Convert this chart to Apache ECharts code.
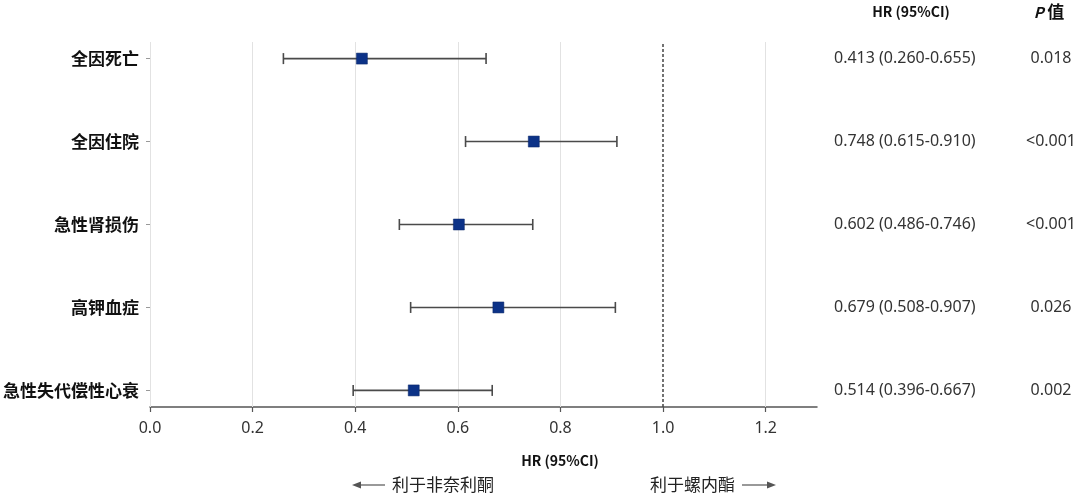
<!DOCTYPE html>
<html lang="zh">
<head>
	<meta charset="UTF-8">
	<title>森林图</title>
	<script src="https://cdn.jsdelivr.net/npm/echarts@6/dist/echarts.min.js"></script>
	<style>
		html, body { margin: 0; padding: 0; background: #fff; }
	</style>
</head>
<body>
	<div id="forest" style="width: 1080px;height: 497px;"></div>
	<script>
		// rows listed top to bottom
		var outcomes = ['全因死亡', '全因住院', '急性肾损伤', '高钾血症', '急性失代偿性心衰'];
		var hr = [0.413, 0.748, 0.602, 0.679, 0.514];
		var ciLow = [0.260, 0.615, 0.486, 0.508, 0.396];
		var ciHigh = [0.655, 0.910, 0.746, 0.907, 0.667];
		var pValues = ['0.018', '<0.001', '<0.001', '0.026', '0.002'];
		var xTicks = [0, 0.2, 0.4, 0.6, 0.8, 1.0, 1.2];

		var font = '"Noto Sans CJK SC", "Noto Sans", sans-serif';
		var numFont = '"Noto Sans", "Noto Sans CJK SC", sans-serif';
		var n = outcomes.length;
		var rowPos = outcomes.map(function (d, i) { return n - 1 - i; });

		function rowIndex(v) {
			return n - 1 - Math.round(v);
		}

		var points = hr.map(function (v, i) { return [v, rowPos[i]]; });
		var bars = hr.map(function (v, i) { return [ciLow[i], ciHigh[i], rowPos[i]]; });

		var gridMarks = xTicks.map(function (v) {
			if (v === 1.0) {
				return { xAxis: v, lineStyle: { color: '#444', width: 1.5, type: [3, 2] } };
			}
			return { xAxis: v, lineStyle: { color: '#e2e2e2', width: 1, type: 'solid' } };
		});

		var option = {
			animation: false,
			textStyle: { fontFamily: font },
			grid: { left: 150, right: 263, top: 42, bottom: 90 },
			xAxis: {
				type: 'value',
				min: 0,
				max: 1.3,
				axisLine: { onZero: false, lineStyle: { color: '#555', width: 1.5 } },
				axisTick: { customValues: xTicks, length: 5, lineStyle: { color: '#555', width: 1.2 } },
				axisLabel: {
					customValues: xTicks,
					margin: 13,
					fontSize: 16,
					fontFamily: numFont,
					color: '#333',
					formatter: function (v) { return v.toFixed(1); }
				},
				splitLine: { show: false }
			},
			yAxis: [{
				type: 'value',
				min: -0.2,
				max: 4.2,
				axisLine: { show: false },
				axisTick: { customValues: rowPos, length: 4, lineStyle: { color: '#999' } },
				axisLabel: {
					customValues: rowPos,
					margin: 11,
					fontSize: 17,
					fontWeight: 'bold',
					color: '#111',
					formatter: function (v) { return outcomes[rowIndex(v)]; }
				},
				splitLine: { show: false }
			}, {
				type: 'value',
				position: 'right',
				min: -0.2,
				max: 4.2,
				axisLine: { show: false },
				axisTick: { show: false },
				axisLabel: {
					customValues: rowPos,
					margin: 17,
					fontSize: 16,
					fontFamily: numFont,
					color: '#333',
					formatter: function (v) {
						var i = rowIndex(v);
						return hr[i].toFixed(3) + ' (' + ciLow[i].toFixed(3) + '-' + ciHigh[i].toFixed(3) + ')';
					}
				},
				splitLine: { show: false }
			}, {
				type: 'value',
				position: 'right',
				offset: 234,
				min: -0.2,
				max: 4.2,
				axisLine: { show: false },
				axisTick: { show: false },
				axisLabel: {
					customValues: rowPos,
					margin: 0,
					align: 'center',
					fontSize: 16,
					fontFamily: numFont,
					color: '#333',
					formatter: function (v) { return pValues[rowIndex(v)]; }
				},
				splitLine: { show: false }
			}],
			series: [{
				name: 'CI',
				type: 'custom',
				silent: true,
				z: 3,
				renderItem: function (params, api) {
					var a = api.coord([api.value(0), api.value(2)]);
					var b = api.coord([api.value(1), api.value(2)]);
					var cap = 5.5;
					var style = { stroke: '#4a4a4a', lineWidth: 1.6 };
					return {
						type: 'group',
						children: [
							{ type: 'line', shape: { x1: a[0], y1: a[1], x2: b[0], y2: b[1] }, style: style },
							{ type: 'line', shape: { x1: a[0], y1: a[1] - cap, x2: a[0], y2: a[1] + cap }, style: style },
							{ type: 'line', shape: { x1: b[0], y1: b[1] - cap, x2: b[0], y2: b[1] + cap }, style: style }
						]
					};
				},
				encode: { x: [0, 1], y: 2 },
				data: bars,
				markLine: {
					silent: true,
					symbol: 'none',
					label: { show: false },
					z: 1,
					data: gridMarks
				}
			}, {
				name: 'HR',
				type: 'scatter',
				symbol: 'rect',
				symbolSize: 11,
				z: 5,
				itemStyle: { color: '#0c3287', opacity: 1, borderColor: '#0a2766', borderWidth: 0.5 },
				data: points
			}],
			graphic: [
				{ type: 'text', x: 911, y: 12, style: { text: 'HR (95%CI)', align: 'center', verticalAlign: 'middle', font: 'bold 14px ' + font, fill: '#111' } },
				{
					type: 'text', x: 1049, y: 12,
					style: {
						text: '{p|P} {z|值}',
						align: 'center',
						verticalAlign: 'middle',
						rich: {
							p: { font: 'italic bold 15px ' + font, fill: '#111' },
							z: { font: 'bold 17px ' + font, fill: '#111' }
						}
					}
				},
				{ type: 'text', x: 560, y: 461, style: { text: 'HR (95%CI)', align: 'center', verticalAlign: 'middle', font: 'bold 14px ' + font, fill: '#111' } },
				{ type: 'line', shape: { x1: 359, y1: 485, x2: 385, y2: 485 }, style: { stroke: '#555', lineWidth: 1.2 } },
				{ type: 'polygon', shape: { points: [[352, 485], [361, 481.5], [361, 488.5]] }, style: { fill: '#555' } },
				{ type: 'text', x: 392, y: 485, style: { text: '利于非奈利酮', verticalAlign: 'middle', font: '17px ' + font, fill: '#222' } },
				{ type: 'text', x: 650, y: 485, style: { text: '利于螺内酯', verticalAlign: 'middle', font: '17px ' + font, fill: '#222' } },
				{ type: 'line', shape: { x1: 742, y1: 485, x2: 768, y2: 485 }, style: { stroke: '#555', lineWidth: 1.2 } },
				{ type: 'polygon', shape: { points: [[776, 485], [767, 481.5], [767, 488.5]] }, style: { fill: '#555' } }
			]
		};

		var myChart = echarts.init(document.getElementById('forest'));
		myChart.setOption(option);
	</script>
</body>
</html>
